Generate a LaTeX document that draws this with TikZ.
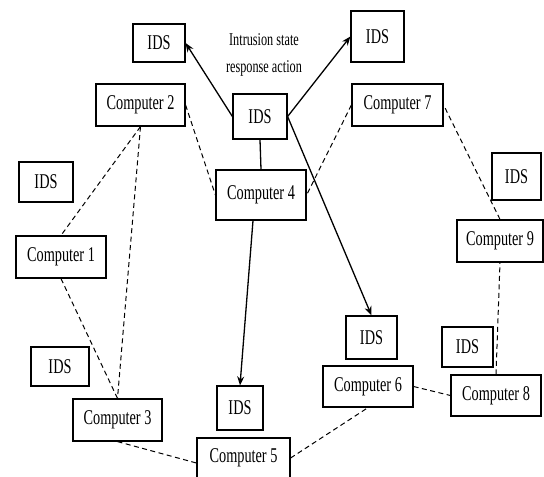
\documentclass[tikz,border=0pt]{standalone}
\usepackage{fontspec}
\newfontfamily\figfont[FakeStretch=0.68]{Liberation Serif}
\usetikzlibrary{arrows.meta}
\begin{document}
\begin{tikzpicture}[x=1pt, y=-1pt,
  every node/.style={font=\figfont\fontsize{21}{24}\selectfont},
  pcbox/.style={draw, line width=1.2pt, inner sep=0pt, fill=white},
  link/.style={dashed, line width=1pt, dash pattern=on 5pt off 3.5pt},
  alert/.style={line width=1.3pt, -{Stealth[length=9pt,width=7pt]}}]
\useasboundingbox (0,0) rectangle (544,477);
\clip (0,0) rectangle (544,477);
% upper part
\node[pcbox, minimum width=52, minimum height=38] (ids1) at (159,43) {IDS};
\node[pcbox, minimum width=53, minimum height=51] (ids2) at (377.5,36.5) {IDS};
\node[font=\figfont\fontsize{18}{27}\selectfont, align=center] (note) at (264,55) {Intrusion state\\response action};
\node[pcbox, minimum width=89, minimum height=42] (c2) at (140.5,105) {Computer 2};
\node[pcbox, minimum width=54, minimum height=45] (idsC) at (260,116.5) {IDS};
\node[pcbox, minimum width=91, minimum height=42] (c7) at (397.5,105) {Computer 7};
\node[pcbox, minimum width=54, minimum height=40] (idsL) at (46,182) {IDS};
\node[pcbox, minimum width=90, minimum height=50] (c4) at (261,195) {Computer 4};
\node[pcbox, minimum width=49, minimum height=47] (ids9) at (516.5,176.5) {IDS};
\node[pcbox, minimum width=86, minimum height=42] (c9) at (500,241) {Computer 9};
% lower part
\node[pcbox, minimum width=90, minimum height=42] (c1) at (61,257) {Computer 1};
\node[pcbox, minimum width=58, minimum height=39] (idsL2) at (60,366.5) {IDS};
\node[pcbox, minimum width=89, minimum height=42] (c3) at (117.5,420) {Computer 3};
\node[pcbox, minimum width=46, minimum height=44] (idsB) at (240,408) {IDS};
\node[pcbox, minimum width=93, minimum height=40] (c5) at (243.5,458) {Computer 5};
\node[pcbox, minimum width=51, minimum height=43] (ids6) at (371.5,337.5) {IDS};
\node[pcbox, minimum width=90, minimum height=41] (c6) at (368,386.5) {Computer 6};
\node[pcbox, minimum width=51, minimum height=40] (ids8) at (467.5,347) {IDS};
\node[pcbox, minimum width=90, minimum height=41] (c8) at (496,395.5) {Computer 8};
% response arrows
\draw[alert] (idsC.west) -- (ids1.east);
\draw[alert] (idsC.east) -- (ids2.west);
\draw[alert] (idsC.east) -- (ids6.north);
\draw[line width=1.3pt] (idsC.south) -- (c4.north);
\draw[alert] ([xshift=-8pt]c4.south) -- (idsB.north);
% network links
\draw[link] (c2.east) -- (c4.west);
\draw[link] (c2.south) -- (c1.north);
\draw[link] (c2.south) -- (c3.north);
\draw[link] (c1.south) -- (c3.north);
\draw[link] (c3.south) -- ([yshift=-5pt]c5.west);
\draw[link] (c5.east) -- (c6.south);
\draw[link] (c6.east) -- (c8.west);
\draw[link] (c8.north) -- (c9.south);
\draw[link] (c9.north) -- (c7.east);
\draw[link] (c7.west) -- (c4.east);
\end{tikzpicture}
\end{document}
